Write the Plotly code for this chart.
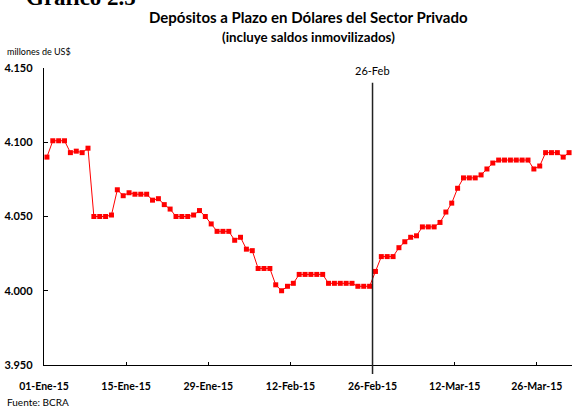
import pandas as pd
import plotly.graph_objects as go

dates = pd.date_range("2015-01-01", "2015-03-31", freq="D")
values = [
    4090, 4101, 4101, 4101, 4093, 4094, 4093, 4096, 4050, 4050,
    4050, 4051, 4068, 4064, 4066, 4065, 4065, 4065, 4061, 4062,
    4058, 4055, 4050, 4050, 4050, 4051, 4054, 4050, 4045, 4040,
    4040, 4040, 4034, 4036, 4028, 4027, 4015, 4015, 4015, 4004,
    4000, 4003, 4005, 4011, 4011, 4011, 4011, 4011, 4005, 4005,
    4005, 4005, 4005, 4003, 4003, 4003, 4013, 4023, 4023, 4023,
    4029, 4033, 4036, 4037, 4043, 4043, 4043, 4046, 4053, 4059,
    4069, 4076, 4076, 4076, 4078, 4082, 4086, 4088, 4088, 4088,
    4088, 4088, 4088, 4082, 4084, 4093, 4093, 4093, 4090, 4093,
]
x_tick_dates = ["2015-01-01", "2015-01-15", "2015-01-29", "2015-02-12",
                "2015-02-26", "2015-03-12", "2015-03-26"]
x_tick_labels = ["01-Ene-15", "15-Ene-15", "29-Ene-15", "12-Feb-15",
                 "26-Feb-15", "12-Mar-15", "26-Mar-15"]
y_tick_vals = [3950, 4000, 4050, 4100, 4150]
y_tick_labels = ["3.950", "4.000", "4.050", "4.100", "4.150"]
event_date = "2015-02-26"
event_label = "26-Feb"

half_day = pd.Timedelta(hours=12)
tickvals = [pd.Timestamp(d) - half_day for d in x_tick_dates]
event_x = pd.Timestamp(event_date) - half_day

FONT = "Lato"
PLOT_W = 528  # plot-area width in px (l=44, r=0)

fig = go.Figure()
fig.add_trace(go.Scatter(
    x=dates, y=values, mode="lines+markers",
    line=dict(color="#ff0000", width=1),
    marker=dict(symbol="square", size=5, color="#ff0000"),
    cliponaxis=True,
))

fig.add_shape(type="line", xref="x", yref="paper",
              x0=event_x, x1=event_x, y0=-0.03, y1=0.95,
              line=dict(color="#222222", width=1.5))
fig.add_annotation(x=event_x, xref="x", y=0.99, yref="paper",
                   text=event_label, showarrow=False,
                   font=dict(family=FONT, size=11, color="#000000"),
                   xanchor="center", yanchor="middle")

fig.add_annotation(x=-20 / PLOT_W, xref="paper", y=1.0, yref="paper", yshift=56,
                   text="<b>Gráfico 2.5</b>", showarrow=False,
                   xanchor="left", yanchor="bottom",
                   font=dict(family="Liberation Serif", size=23, color="#000000"))
fig.add_annotation(x=(308 - 44) / PLOT_W, xref="paper", y=1.0, yref="paper", yshift=51,
                   text="<b>Depósitos a Plazo en Dólares del Sector Privado</b>",
                   showarrow=False, xanchor="center", yanchor="middle",
                   font=dict(family=FONT, size=15, color="#000000"))
fig.add_annotation(x=(308 - 44) / PLOT_W, xref="paper", y=1.0, yref="paper", yshift=31,
                   text="<b>(incluye saldos inmovilizados)</b>",
                   showarrow=False, xanchor="center", yanchor="middle",
                   font=dict(family=FONT, size=13.3, color="#000000"))
fig.add_annotation(x=-39 / PLOT_W, xref="paper", y=1.0, yref="paper", yshift=9,
                   text="millones de US$", showarrow=False,
                   xanchor="left", yanchor="bottom",
                   font=dict(family=FONT, size=9, color="#000000"))
fig.add_annotation(x=-39 / PLOT_W, xref="paper", y=0, yref="paper", yshift=-37,
                   text="Fuente: BCRA", showarrow=False,
                   xanchor="left", yanchor="middle",
                   font=dict(family=FONT, size=10, color="#000000"))

fig.update_layout(
    width=572, height=409,
    margin=dict(l=44, r=0, t=68, b=44),
    paper_bgcolor="white", plot_bgcolor="white",
    showlegend=False,
    xaxis=dict(
        type="date",
        range=[pd.Timestamp("2015-01-01") - half_day, pd.Timestamp("2015-03-31") + half_day],
        tickvals=tickvals, ticktext=x_tick_labels,
        showgrid=False, zeroline=False,
        showline=True, linecolor="#000000", linewidth=1.2,
        ticks="inside", ticklen=3, tickcolor="#000000",
        tickfont=dict(family=FONT, size=10.5, color="#000000", weight="bold"),
        ticklabelstandoff=11,
    ),
    yaxis=dict(
        range=[3950, 4150],
        tickvals=y_tick_vals, ticktext=y_tick_labels,
        showgrid=False, zeroline=False,
        showline=True, linecolor="#000000", linewidth=1.2,
        ticks="inside", ticklen=4, tickcolor="#000000",
        tickfont=dict(family=FONT, size=11, color="#000000", weight="bold"),
        ticklabelstandoff=8,
    ),
)

fig.write_html("out.html",
               config={"displayModeBar": False, "staticPlot": True},
               post_script="document.body.style.margin='0';document.body.style.overflow='hidden';")
